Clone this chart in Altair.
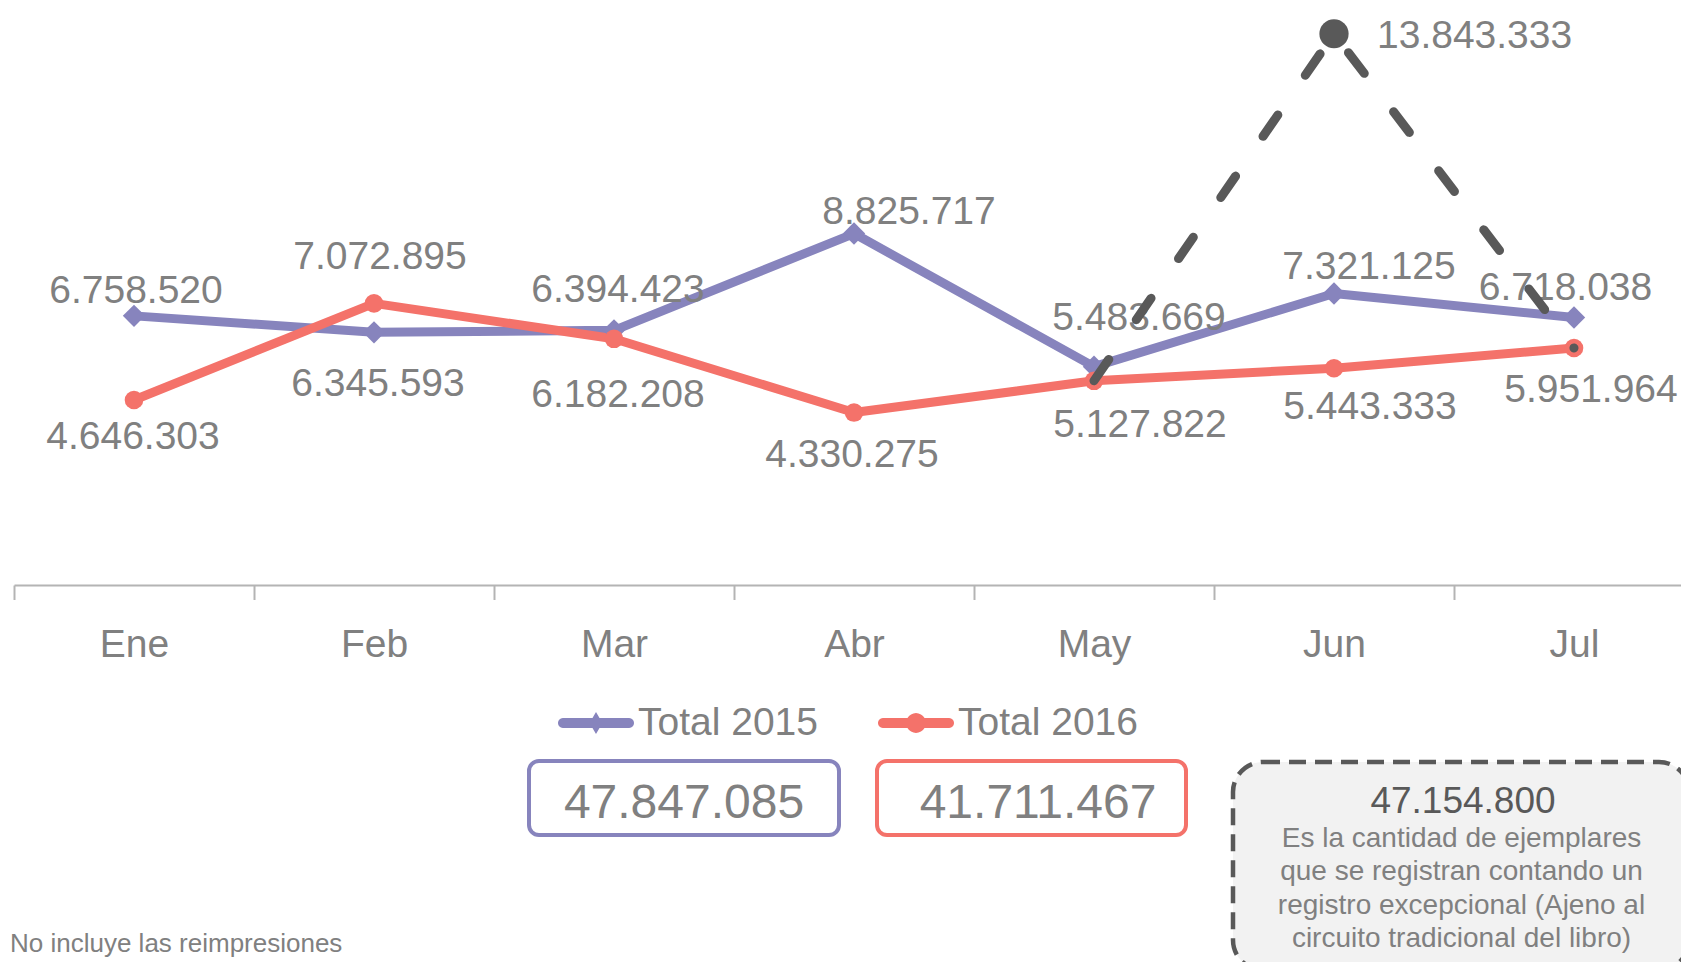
import math
import altair as alt
import pandas as pd

# ---------------- data ----------------
months = ["Ene", "Feb", "Mar", "Abr", "May", "Jun", "Jul"]
total_2015 = [6758520, 6345593, 6394423, 8825717, 5483669, 7321125, 6718038]
total_2016 = [4646303, 7072895, 6182208, 4330275, 5127822, 5443333, 5951964]
registro_excepcional = [None, None, None, None, 5127822, 13843333, 5951964]
series_names = ["Total 2015", "Total 2016"]
totales = ["47.847.085", "41.711.467"]
excepcional_total = "47.154.800"
excepcional_nota = [
    "Es la cantidad de ejemplares",
    "que se registran contando un",
    "registro excepcional (Ajeno al",
    "circuito tradicional del libro)",
]
nota_pie = "No incluye las reimpresiones"

# ---------------- style ----------------
BLUE = "#8784BD"
RED = "#F4726A"
DARK = "#595959"
GRAY = "#808080"
AXISC = "#B4B4B4"
FONT = "Liberation Sans, Arial, sans-serif"
LBL = 39  # label font size


def fmt(v):
    return f"{int(v):,}".replace(",", ".")


rows = []
for name, vals in zip(series_names, [total_2015, total_2016]):
    for m, v in zip(months, vals):
        rows.append({"mes": m, "serie": name, "valor": v, "etiqueta": fmt(v)})
df = pd.DataFrame(rows)

exc = pd.DataFrame(
    [{"mes": m, "valor": v, "etiqueta": fmt(v)} for m, v in zip(months, registro_excepcional) if v is not None]
)
one = pd.DataFrame({"k": [0]})

x_enc = alt.X(
    "mes:N",
    sort=months,
    scale=alt.Scale(type="band", domain=months, range=[0, 1680], paddingInner=0, paddingOuter=0),
    axis=alt.Axis(
        title=None, labelAngle=0, labelFont=FONT, labelFontSize=LBL, labelColor=GRAY,
        labelBaseline="alphabetic", labelPadding=57, tickSize=14.5, tickWidth=2,
        tickColor=AXISC, domainColor=AXISC, domainWidth=2, tickBand="extent", grid=False,
    ),
)
y_enc = alt.Y("valor:Q", scale=alt.Scale(domain=[0, 14490000], nice=False, zero=True), axis=None)

base = alt.Chart(df).encode(x=x_enc, y=y_enc)

line15 = base.transform_filter(alt.datum.serie == series_names[0]).mark_line(
    color=BLUE, strokeWidth=9, strokeJoin="round", strokeCap="round")
line16 = base.transform_filter(alt.datum.serie == series_names[1]).mark_line(
    color=RED, strokeWidth=9, strokeJoin="round", strokeCap="round")
pts15 = base.transform_filter(alt.datum.serie == series_names[0]).mark_point(
    shape="diamond", filled=True, size=500, color=BLUE, opacity=1)
pts16 = base.transform_filter(alt.datum.serie == series_names[1]).mark_point(
    shape="circle", filled=True, size=346, color=RED, opacity=1)

# label placement (dx, dy relative to each point)
label_offsets = {
    ("Total 2015", "Ene"): (2, -13), ("Total 2015", "Feb"): (4, 64),
    ("Total 2015", "Mar"): (4, -28), ("Total 2015", "Abr"): (55, -10),
    ("Total 2015", "May"): (45, -37), ("Total 2015", "Jun"): (35, -14),
    ("Total 2015", "Jul"): (-8.5, -17),
    ("Total 2016", "Ene"): (-1, 49), ("Total 2016", "Feb"): (6, -34),
    ("Total 2016", "Mar"): (4, 68), ("Total 2016", "Abr"): (-2, 54),
    ("Total 2016", "May"): (46, 56), ("Total 2016", "Jun"): (36, 51),
    ("Total 2016", "Jul"): (17, 54),
}
labels = []
for (s, m), (ddx, ddy) in label_offsets.items():
    labels.append(
        base.transform_filter((alt.datum.serie == s) & (alt.datum.mes == m))
        .mark_text(font=FONT, fontSize=LBL, color=GRAY, align="center", baseline="alphabetic", dx=ddx, dy=ddy)
        .encode(text="etiqueta:N")
    )

exc_base = alt.Chart(exc).encode(x=x_enc, y=y_enc)
exc_line = exc_base.mark_line(color=DARK, strokeWidth=9, strokeDash=[26, 48.3], strokeCap="round")
exc_dot = exc_base.transform_filter(alt.datum.mes == "Jun").mark_point(
    shape="circle", filled=True, size=855, color=DARK, opacity=1)
exc_lbl = exc_base.transform_filter(alt.datum.mes == "Jun").mark_text(
    font=FONT, fontSize=LBL, color=GRAY, align="left", baseline="alphabetic", dx=43, dy=14
).encode(text="etiqueta:N")


# legend symbols: line with marker (unit square -1..1)
def _pts_to_path(pts):
    return "M" + "L".join(f"{px:.3f},{py:.3f}" for px, py in pts) + "Z"


def _bar(t=0.13):
    pts = []
    for i in range(0, 13):
        a = math.radians(-90 + 15 * i)
        pts.append((1 - t + t * math.cos(a), t * math.sin(a)))
    for i in range(0, 13):
        a = math.radians(90 + 15 * i)
        pts.append((-(1 - t) + t * math.cos(a), t * math.sin(a)))
    return _pts_to_path(pts)


diamond = _pts_to_path([(0, -0.29), (0.17, 0), (0, 0.29), (-0.17, 0)])
circle = _pts_to_path([(0.26 * math.cos(math.radians(a)), 0.26 * math.sin(math.radians(a))) for a in range(0, 360, 15)])
sym15 = _bar() + diamond
sym16 = _bar() + circle

leg = alt.Legend(
    orient="none", legendX=544, legendY=677, direction="horizontal", title=None,
    labelFont=FONT, labelFontSize=LBL, labelColor=GRAY, labelLimit=0, labelOffset=4,
    symbolSize=5776, symbolStrokeWidth=0, symbolOpacity=1, columnPadding=60, padding=0,
)
legend_layer = alt.Chart(df).transform_filter("false").mark_point(filled=True).encode(
    x=x_enc, y=y_enc,
    color=alt.Color("serie:N", scale=alt.Scale(domain=series_names, range=[BLUE, RED]), legend=leg),
    shape=alt.Shape("serie:N", scale=alt.Scale(domain=series_names, range=[sym15, sym16]), legend=leg),
)

# total boxes
box15 = alt.Chart(one).mark_rect(cornerRadius=10, fill="white", stroke=BLUE, strokeWidth=4).encode(
    x=alt.value(515), x2=alt.value(825), y=alt.value(753), y2=alt.value(827))
box16 = alt.Chart(one).mark_rect(cornerRadius=10, fill="white", stroke=RED, strokeWidth=4).encode(
    x=alt.value(863), x2=alt.value(1172), y=alt.value(753), y2=alt.value(827))
txt15 = alt.Chart(one).mark_text(font=FONT, fontSize=48, color=GRAY, align="center", baseline="alphabetic").encode(
    x=alt.value(670), y=alt.value(810), text=alt.value(totales[0]))
txt16 = alt.Chart(one).mark_text(font=FONT, fontSize=48, color=GRAY, align="center", baseline="alphabetic").encode(
    x=alt.value(1024), y=alt.value(810), text=alt.value(totales[1]))

boxexc = alt.Chart(one).mark_rect(
    cornerRadius=30, fill="#F2F2F2", stroke=DARK, strokeWidth=4.5, strokeDash=[17, 9]
).encode(x=alt.value(1219), x2=alt.value(1675), y=alt.value(754), y2=alt.value(962))
txtexc = alt.Chart(one).mark_text(font=FONT, fontSize=37, color=DARK, align="center", baseline="alphabetic").encode(
    x=alt.value(1449), y=alt.value(804.7), text=alt.value(excepcional_total))
nota_layers = []
for i, linea in enumerate(excepcional_nota):
    nota_layers.append(
        alt.Chart(one).mark_text(font=FONT, fontSize=28, color=GRAY, align="center", baseline="alphabetic").encode(
            x=alt.value(1447.5), y=alt.value(838.7 + 33.4 * i), text=alt.value(linea))
    )
pie = alt.Chart(one).mark_text(font=FONT, fontSize=26, color=GRAY, align="left", baseline="alphabetic").encode(
    x=alt.value(-4), y=alt.value(944), text=alt.value(nota_pie))

chart = alt.layer(
    line15, line16, pts15, pts16, *labels, exc_line, exc_dot, exc_lbl, legend_layer,
    box15, box16, txt15, txt16, boxexc, txtexc, *nota_layers, pie,
).properties(
    width=1667, height=577,
    autosize=alt.AutoSizeParams(type="none"),
    padding={"left": 6, "top": 0, "right": 0, "bottom": 377},
    background="white",
).configure_view(stroke=None)

chart.save("out.html", embed_options={"renderer": "svg", "actions": False})
